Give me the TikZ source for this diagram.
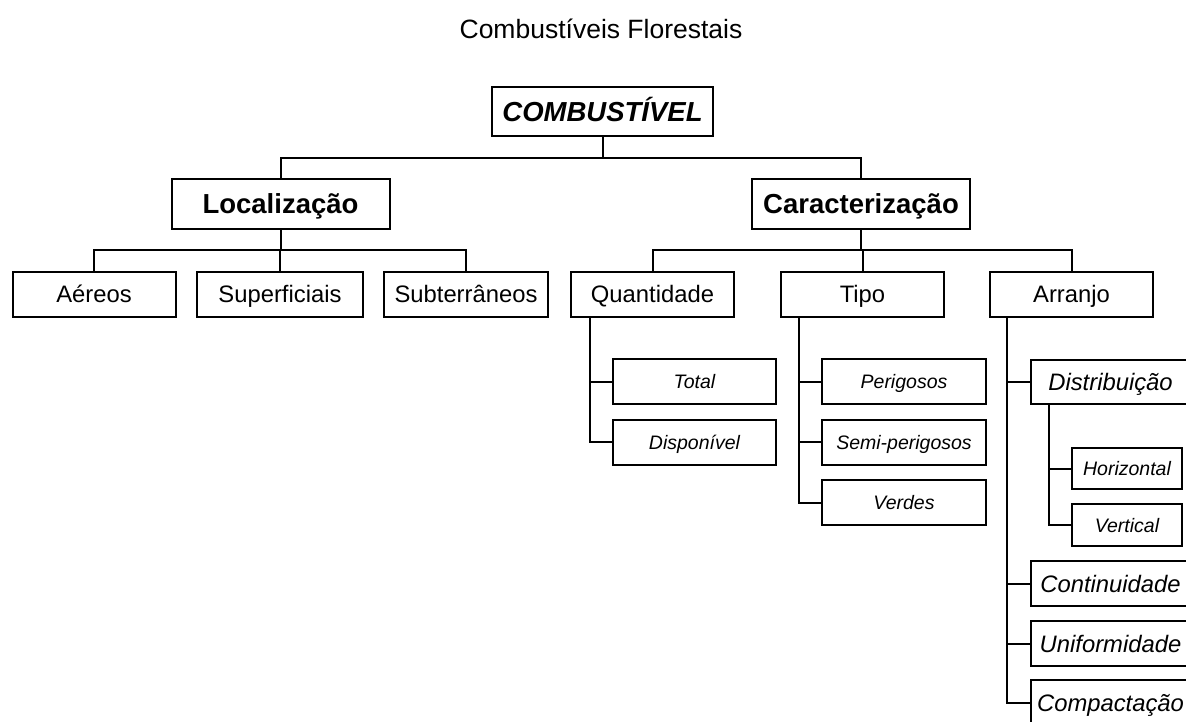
\documentclass[tikz,border=0pt]{standalone}
\usepackage{fontspec}
\setmainfont{Liberation Sans}
\begin{document}
\begin{tikzpicture}[x=1pt,y=-1pt,
  line width=2pt,
  box/.style={draw=black,line width=2pt,inner sep=0pt,anchor=center,text depth=0pt},
  bigbold/.style={box,font=\fontsize{27.5}{32}\selectfont\bfseries,text height=19.7pt},
  mid/.style={box,font=\fontsize{23.8}{28}\selectfont,text height=17pt},
  miditalic/.style={box,font=\fontsize{23.8}{28}\selectfont\itshape,text height=17pt},
  small/.style={box,font=\fontsize{19.5}{24}\selectfont\itshape,text height=14pt}]
\useasboundingbox (0,0) rectangle (1186,722);
\clip (0,0) rectangle (1186,722);
\fill[white] (0,0) rectangle (1186,722);

\node[anchor=base,font=\fontsize{26.5}{30}\selectfont] (title) at (601,39) {Combustíveis Florestais};

\node[bigbold,font=\fontsize{27.5}{32}\selectfont\bfseries\itshape,minimum width=221,minimum height=49] (comb) at (602.5,111.5) {COMBUSTÍVEL};

\node[bigbold,minimum width=218,minimum height=50] (loc) at (280.5,204) {Localização};
\node[bigbold,minimum width=218,minimum height=50] (car) at (861,204) {Caracterização};

\node[mid,minimum width=163,minimum height=45] (aer) at (94,294) {Aéreos};
\node[mid,minimum width=166,minimum height=45] (sup) at (280,294) {Superficiais};
\node[mid,minimum width=164,minimum height=45] (sub) at (466,294) {Subterrâneos};

\node[mid,minimum width=163,minimum height=45] (qua) at (652.5,294) {Quantidade};
\node[mid,minimum width=163,minimum height=45] (tip) at (862.5,294) {Tipo};
\node[mid,minimum width=163,minimum height=45] (arr) at (1071.5,294) {Arranjo};

\node[small,minimum width=163,minimum height=45] (tot) at (694.5,381.5) {Total};
\node[small,minimum width=163,minimum height=45] (dis) at (694.5,442) {Disponível};

\node[small,minimum width=164,minimum height=45] (per) at (904,381.5) {Perigosos};
\node[small,minimum width=164,minimum height=45] (sem) at (904,442) {Semi-perigosos};
\node[small,minimum width=164,minimum height=45] (ver) at (904,502.5) {Verdes};

\node[miditalic,minimum width=159,minimum height=44] (dst) at (1110.5,382) {Distribuição};
\node[small,minimum width=110,minimum height=41] (hor) at (1127,468.5) {Horizontal};
\node[small,minimum width=110,minimum height=42] (vrt) at (1127,525) {Vertical};
\node[miditalic,minimum width=159,minimum height=45] (con) at (1110.5,583.5) {Continuidade};
\node[miditalic,minimum width=159,minimum height=45] (uni) at (1110.5,643.5) {Uniformidade};
\node[miditalic,minimum width=159,minimum height=45] (cmp) at (1110.5,702.5) {Compactação};

\coordinate (b1) at (0,158);
\coordinate (b2) at (0,250);

% level 1
\draw (comb.south) -- (comb.south |- b1);
\draw (loc.north) -- (loc.north |- b1) -- (car.north |- b1) -- (car.north);

% Localizacao
\draw (loc.south) -- (loc.south |- b2);
\draw (aer.north) -- (aer.north |- b2) -- (sub.north |- b2) -- (sub.north);
\draw (sup.north) -- (sup.north |- b2);

% Caracterizacao
\draw (car.south) -- (car.south |- b2);
\draw (qua.north) -- (qua.north |- b2) -- (arr.north |- b2) -- (arr.north);
\draw (tip.north) -- (tip.north |- b2);

% Quantidade
\coordinate (qv) at ([xshift=20pt]qua.south west);
\draw (qv) |- (dis.west);
\draw (qv |- tot.west) -- (tot.west);

% Tipo
\coordinate (tv) at ([xshift=19pt]tip.south west);
\draw (tv) |- (ver.west);
\draw (tv |- per.west) -- (per.west);
\draw (tv |- sem.west) -- (sem.west);

% Arranjo
\coordinate (av) at ([xshift=18pt]arr.south west);
\draw (av) |- (cmp.west);
\draw (av |- dst.west) -- (dst.west);
\draw (av |- con.west) -- (con.west);
\draw (av |- uni.west) -- (uni.west);

% Distribuicao
\coordinate (dv) at ([xshift=19pt]dst.south west);
\draw (dv) |- (vrt.west);
\draw (dv |- hor.west) -- (hor.west);
\end{tikzpicture}
\end{document}
